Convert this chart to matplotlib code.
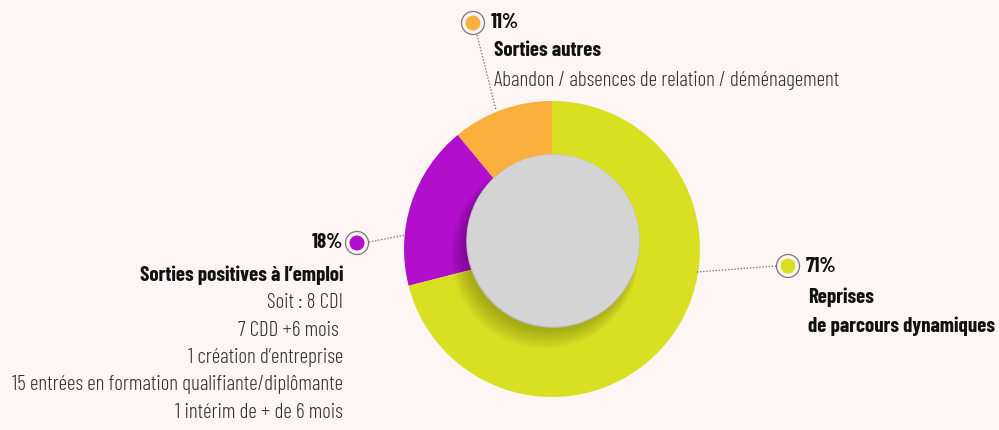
import matplotlib
matplotlib.use("Agg")
import matplotlib.pyplot as plt
from matplotlib.patches import Circle
from matplotlib.textpath import TextPath
from matplotlib.font_manager import FontProperties, findfont

# data
categories = ["Sorties autres", "Sorties positives à l’emploi", "Reprises\nde parcours dynamiques"]
shares = [11, 18, 71]
colors = ["#fbb03e", "#b10fcb", "#d9e022"]
details = {
    "Sorties autres": ["Abandon / absences de relation / déménagement"],
    "Sorties positives à l’emploi": ["Soit : 8 CDI", "7 CDD +6 mois ", "1 création d’entreprise",
                                     "15 entrées en formation qualifiante/diplômante",
                                     "1 intérim de + de 6 mois"],
}

# pick the condensed family whose proportions come closest to the reference
# (width of a line vs height of its capitals)
candidates = ["Barlow Condensed", "Roboto Condensed", "Sofia Sans Condensed",
              "Sofia Sans Extra Condensed", "Saira ExtraCondensed", "Fira Sans Extra Condensed",
              "Oswald", "Encode Sans Condensed", "Antonio", "Open Sans Condensed"]


def proportions(fam, s, weight, w_target):
    fp = FontProperties(family=fam, weight=weight)
    ext = TextPath((0, 0), s, size=100, prop=fp).get_extents()
    cap = TextPath((0, 0), s[0], size=100, prop=fp).get_extents().height
    return cap * w_target / ext.width


best, err = "Barlow Condensed", 1e9
for fam in candidates:
    try:
        findfont(FontProperties(family=fam), fallback_to_default=False)
    except Exception:
        continue
    e = (abs(proportions(fam, details[categories[0]][0], 300, 347) - 16)
         + abs(proportions(fam, categories[1], "bold", 204) - 15))
    if e < err:
        best, err = fam, e

plt.rcParams["font.family"] = [best, "DejaVu Sans"]

BG = "#fdf6f4"
H = 430
fig = plt.figure(figsize=(9.99, 4.30), dpi=100, facecolor=BG)
ax = fig.add_axes([0, 0, 1, 1])
ax.set_xlim(0, 999)
ax.set_ylim(0, H)
ax.set_aspect("equal")
ax.axis("off")

cx, cy, R = 552, H - 249, 148
ax.pie(shares, colors=colors, startangle=90, counterclock=True, radius=R, center=(cx, cy),
       wedgeprops=dict(linewidth=0))
ax.set_xlim(0, 999)
ax.set_ylim(0, H)

# inner circle with soft shadow
icx, icy, r = 553, H - 241, 86
for i in range(12):
    ax.add_patch(Circle((icx - 4 - i * 0.4, icy - 6 - i * 0.7), r - 2 + i * 0.9,
                        color="black", alpha=0.018, lw=0, zorder=3))
ax.add_patch(Circle((icx, icy), r + 0.8, color="#bcbdbc", lw=0, zorder=4))
ax.add_patch(Circle((icx + 0.3, icy + 0.5), r, color="#d3d4d3", lw=0, zorder=5))


def marker(x, y, c):
    ax.add_patch(Circle((x, H - y), 11.5, facecolor=BG, edgecolor="#777777", lw=0.9, zorder=6))
    ax.add_patch(Circle((x, H - y), 7.5, color=c, lw=0, zorder=7))


def dotted(x0, y0, x1, y1):
    ax.plot([x0, x1], [H - y0, H - y1], ls=(0, (1, 1.5)), color="#666666", lw=0.9, zorder=2)


dotted(477, 35, 496, 110)
dotted(369, 242, 405, 235)
dotted(697, 272, 776, 266)
marker(473, 23, colors[0])
marker(357, 243, colors[1])
marker(788, 266, colors[2])

# fit font sizes to the reference text widths
renderer = fig.canvas.get_renderer()


def fit(s, w, **kw):
    t = ax.text(0, 0, s, fontsize=20, **kw)
    bw = t.get_window_extent(renderer).width
    t.remove()
    return 20 * w / bw


ls = fit(details[categories[0]][0], 347, fontweight=300)
bs = fit(categories[1], 204, fontweight="bold")

bold = dict(fontsize=bs, fontweight="bold", color="#111111", va="center")
light = dict(fontsize=ls, fontweight=300, color="#333333", va="center")

# top label
ax.text(491, H - 22, f"{shares[0]}%", ha="left", **bold)
ax.text(494, H - 50, categories[0], ha="left", **bold)
ax.text(494, H - 80, details[categories[0]][0], ha="left", **light)

# left label
ax.text(343, H - 243, f"{shares[1]}%", ha="right", **bold)
ax.text(343, H - 275, categories[1], ha="right", **bold)
for i, line in enumerate(details[categories[1]]):
    ax.text(343, H - 303 - i * 27.3, line, ha="right", **light)

# right label
ax.text(806, H - 267, f"{shares[2]}%", ha="left", **bold)
for i, line in enumerate(categories[2].split("\n")):
    ax.text(808, H - 297 - i * 29, line, ha="left", **bold)

fig.savefig("out.png", dpi=100, facecolor=BG)
